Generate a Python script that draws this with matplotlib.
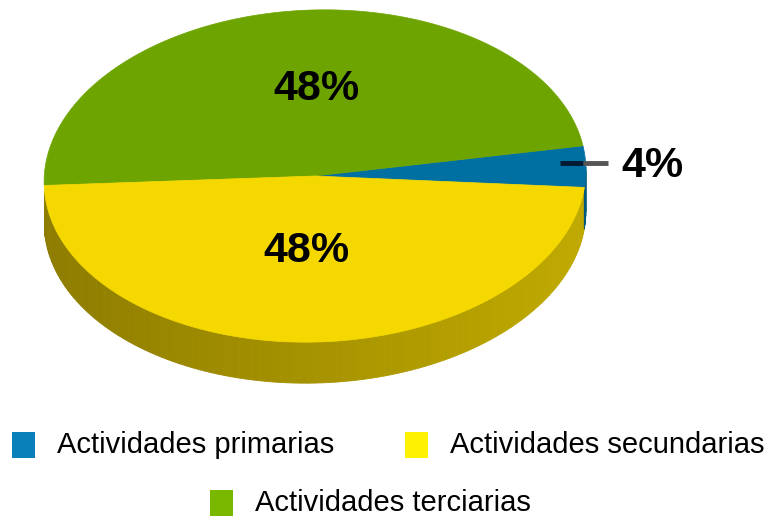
import numpy as np
import matplotlib
matplotlib.use("Agg")
import matplotlib.pyplot as plt  # noqa: E402
from matplotlib.patches import Polygon, Rectangle  # noqa: E402

# data
labels = ["Actividades primarias", "Actividades secundarias", "Actividades terciarias"]
shares = [4, 48, 48]
pct_text = ["4%", "48%", "48%"]
top_colors = ["#0070a2", "#f5d800", "#6ea400"]
legend_colors = ["#0a80ba", "#fff200", "#7ab800"]

# geometry of the pseudo-3D pie (pixel space)
CX, CY = 315.0, 176.0
A, B = 271.0, 166.0
DEPTH = 41.0
PHI = np.deg2rad(2.0)


def pt(t_deg):
    t = np.deg2rad(t_deg)
    x = A * np.cos(t)
    y = -B * np.sin(t)
    xr = x * np.cos(PHI) + y * np.sin(PHI)
    yr = -x * np.sin(PHI) + y * np.cos(PHI)
    return CX + xr, CY + yr


def shade(hex_color, f):
    r, g, b = matplotlib.colors.to_rgb(hex_color)
    return (r * f, g * f, b * f)


def main():
    fig = plt.figure(figsize=(7.72, 5.18), dpi=100)
    ax = fig.add_axes([0, 0, 1, 1])
    ax.set_xlim(0, 772)
    ax.set_ylim(518, 0)
    ax.axis("off")

    # slice angle ranges: blue centred on 0 deg, green above, yellow below
    order = [0, 2, 1]  # primarias, terciarias, secundarias (counter-clockwise)
    start = -shares[0] * 3.6 / 2
    ranges = {}
    for i in order:
        span = shares[i] * 3.6
        ranges[i] = (start, start + span)
        start += span

    # side wall (front half only), thin strips with a horizontal gradient
    ts = np.linspace(182.0, 360.0, 120)
    for t0, t1 in zip(ts[:-1], ts[1:]):
        tm = ((t0 + t1) / 2) % 360
        idx = 1
        for i, (s, e) in ranges.items():
            if s <= tm < e or s <= tm - 360 < e:
                idx = i
        x0, y0 = pt(t0)
        x1, y1 = pt(t1)
        frac = (x0 + x1) / 2 / 600.0
        f = 0.56 + 0.23 * np.clip(frac, 0, 1)
        quad = [(x0, y0), (x1, y1), (x1, y1 + DEPTH), (x0, y0 + DEPTH)]
        ax.add_patch(Polygon(quad, closed=True, facecolor=shade(top_colors[idx], f),
                             edgecolor=shade(top_colors[idx], f), lw=0.6))

    # top faces
    for i in order:
        s, e = ranges[i]
        tt = np.linspace(s, e, 200)
        xs, ys = pt(tt)
        poly = [(CX, CY)] + list(zip(xs, ys))
        ax.add_patch(Polygon(poly, closed=True, facecolor=top_colors[i],
                             edgecolor=top_colors[i], lw=0.5))

    # percentage labels
    bold = dict(family=["Liberation Sans", "DejaVu Sans"], fontweight="bold",
                fontsize=31, ha="center", va="center", color="black")
    ax.text(316, 89, pct_text[2], **bold)
    ax.text(306, 251, pct_text[1], **bold)
    ax.text(652, 166, pct_text[0], **bold)
    ax.plot([560, 583], [163, 163], color="#001a33", lw=3.5, solid_capstyle="butt")
    ax.plot([583, 608], [163, 163], color="#555555", lw=3.5, solid_capstyle="butt")

    # legend
    leg_font = dict(family=["Liberation Sans", "DejaVu Sans"], fontsize=21,
                    ha="left", va="center", color="black")
    spots = [(12, 445), (405, 445), (210, 503)]
    for (x, y), lab, col in zip(spots, labels, legend_colors):
        ax.add_patch(Rectangle((x, y - 13), 23, 26, facecolor=col, edgecolor="none"))
        ax.text(x + 45, y, lab, **leg_font)

    fig.savefig("out.png", dpi=100, facecolor="white")


if __name__ == "__main__":
    main()
